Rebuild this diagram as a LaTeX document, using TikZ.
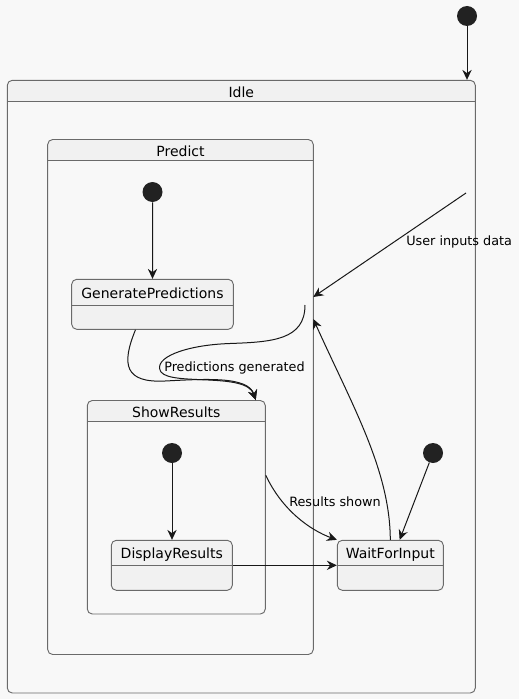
\documentclass[tikz,border=0pt]{standalone}
\usepackage{fontspec}
\setmainfont{DejaVu Sans}
\usetikzlibrary{arrows.meta,fit}
\definecolor{bg}{HTML}{F8F8F8}
\definecolor{headfill}{HTML}{F1F1F1}
\definecolor{border}{HTML}{6A6A6A}
\definecolor{ink}{HTML}{181818}
\definecolor{dotcol}{HTML}{222222}
\newcommand\umlstate[8]{%
  % #1 name, #2 x1, #3 y1, #4 x2, #5 y2, #6 header y, #7 title, #8 body fill
  \begin{scope}
    \clip[rounded corners=3.75pt] (#2,#3) rectangle (#4,#5);
    \fill[headfill] (#2,#3) rectangle (#4,#6);
    \fill[#8] (#2,#6) rectangle (#4,#5);
  \end{scope}
  \node[statebox, fit={(#2,#3) (#4,#5)}] (#1) {};
  \draw[border, line width=0.7pt] (#2,#6) -- (#4,#6);
  \node[titletext] (#1-title) at ({(#2+#4)/2},{(#3+#6)/2+1.2}) {#7};
}
\tikzset{
  statebox/.style={draw=border, line width=0.7pt, rounded corners=3.75pt, inner sep=0pt, rectangle},
  titletext/.style={font=\fontsize{10.5pt}{12pt}\selectfont, text=black, inner sep=0pt},
  edgetext/.style={font=\fontsize{9.6pt}{11pt}\selectfont, text=black, inner sep=0pt},
  initdot/.style={circle, fill=dotcol, minimum size=15pt, inner sep=0pt},
  arr/.style={draw=ink, line width=0.75pt, -{Stealth[length=7.5pt, width=7pt, inset=2.5pt]}},
}
\begin{document}
\begin{tikzpicture}[x=0.75pt, y=-0.75pt]
  \fill[bg] (0,0) rectangle (519,699);
  \useasboundingbox (0,0) rectangle (519,699);

  % states
  \umlstate{idle}{7.3}{80.3}{475.3}{693}{101}{Idle}{bg}
  \umlstate{predict}{47.7}{139.5}{313.3}{654.5}{160.3}{Predict}{bg}
  \umlstate{gp}{71.7}{279.3}{233.3}{329.3}{305.3}{GeneratePredictions}{headfill}
  \umlstate{sr}{87.3}{400.5}{265.3}{614}{421.7}{ShowResults}{bg}
  \umlstate{dr}{111.3}{540.3}{232.3}{590.3}{565.7}{DisplayResults}{headfill}
  \umlstate{wfi}{337.3}{540.3}{443.3}{590.3}{565.7}{WaitForInput}{headfill}

  % initial pseudo states
  \node[initdot] (i0) at (467,16) {};
  \node[initdot] (i1) at (152.5,192) {};
  \node[initdot] (i2) at (172,453) {};
  \node[initdot] (i3) at (433,453) {};

  % free ends
  \coordinate (uin) at (466,193);
  \coordinate (pin) at (313.3,297);
  \coordinate (pin2) at (313.3,319);
  \coordinate (pout) at (305,305);

  % transitions
  \draw[arr] (i0) -- (i0 |- idle.north);
  \draw[arr] (i1) -- (gp.north);
  \draw[arr] (i2) -- (i2 |- dr.north);
  \draw[arr] (i3) -- ([xshift=7pt]wfi.north);

  \draw[arr] (uin) -- (pin);
  \node[edgetext, anchor=west] (l1) at (406,242) {User inputs data};

  \draw[arr] ([xshift=-12.75pt]gp.south) .. controls (121,365) and (125,383) .. (165,381)
     .. controls (205,379) and (248,376) .. ([xshift=-7.5pt]sr.north east);
  \draw[arr] (pout) .. controls (305,340) and (272,342) .. (230,343.5)
     .. controls (185,345) and (152,358) .. (161,372)
     .. controls (172,386) and (246,372) .. ([xshift=-7.5pt]sr.north east);
  \node[edgetext, anchor=west] (l2) at (164,368) {Predictions generated};

  \draw[arr] (wfi.north) .. controls (390,470) and (352,405) .. (pin2);

  \draw[arr] ([yshift=24pt]sr.east) .. controls (282,510) and (310,530) .. (wfi.north west);
  \node[edgetext] (l3) at (335,502) {Results shown};

  \draw[arr] (dr.east) -- (wfi.west);
\end{tikzpicture}
\end{document}
